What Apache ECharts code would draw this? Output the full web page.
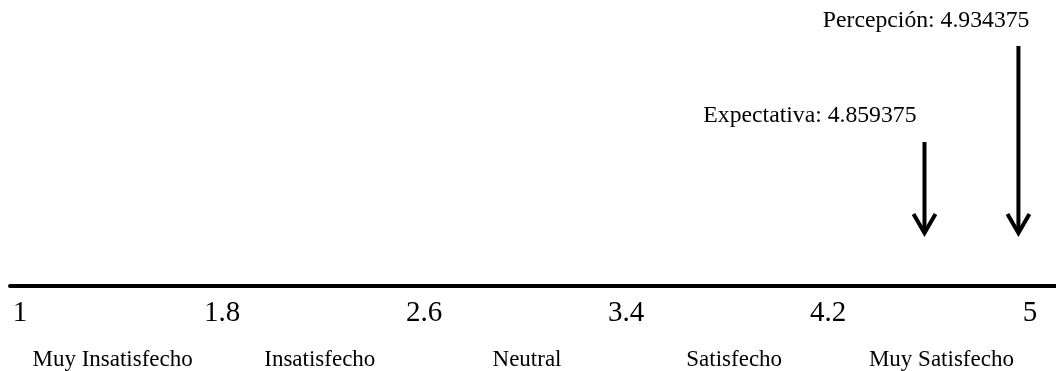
<!DOCTYPE html>
<html>
<head>
<meta charset="utf-8">
<title>Expectativa y Percepción</title>
<script src="https://cdn.jsdelivr.net/npm/echarts@6/dist/echarts.min.js"></script>
<style>
  html, body { margin: 0; padding: 0; background: #ffffff; }
  #chart { width: 1056px; height: 371px; }
</style>
</head>
<body>
<div id="chart"></div>
<script>
// Rating scale: numeric tick labels and the verbal levels under them
const ratingTicks = [1, 1.8, 2.6, 3.4, 4.2, 5];
const ratingCategories = ['Muy Insatisfecho', 'Insatisfecho', 'Neutral', 'Satisfecho', 'Muy Satisfecho'];

// Mean scores marked with arrows
const measureNames = ['Expectativa', 'Percepción'];
const measureValues = [4.859375, 4.934375];

const FONT = '"Liberation Serif", "Times New Roman", serif';

// Arrow drawing styles (start of the shaft and text placement relative to the arrow)
const arrowLayout = [
  { shaftTop: 142, labelDx: -8, labelY: 116 },
  { shaftTop: 46, labelDx: 11, labelY: 21 }
];

const AXIS_Y_BOTTOM = 85;   // distance of the scale line from the bottom edge

const chart = echarts.init(document.getElementById('chart'), null, { renderer: 'canvas' });

const option = {
  backgroundColor: '#ffffff',
  animation: false,
  grid: [
    // 0: heavy scale line
    { left: 10, right: 0, top: 0, bottom: AXIS_Y_BOTTOM, outerBoundsMode: 'none', containLabel: false },
    // 1: numeric scale
    { left: 20, right: 26, top: 0, bottom: AXIS_Y_BOTTOM, outerBoundsMode: 'none', containLabel: false },
    // 2: verbal categories
    { left: 9, right: 11, top: 0, bottom: AXIS_Y_BOTTOM, outerBoundsMode: 'none', containLabel: false },
    // 3: arrow positions
    { left: 36, right: 18, top: 0, bottom: 138, outerBoundsMode: 'none', containLabel: false }
  ],
  xAxis: [
    {
      gridIndex: 0, type: 'value', min: 0, max: 1,
      axisLine: { show: true, lineStyle: { color: '#000', width: 4 } },
      axisTick: { show: false }, axisLabel: { show: false }, splitLine: { show: false }
    },
    {
      gridIndex: 1, type: 'value',
      min: ratingTicks[0], max: ratingTicks[ratingTicks.length - 1],
      interval: 0.8,
      axisLine: { show: false }, axisTick: { show: false }, splitLine: { show: false },
      axisLabel: {
        show: true, color: '#000', fontFamily: FONT, fontSize: 29, lineHeight: 29,
        margin: 13,
        formatter: v => String(Math.round(v * 10) / 10)
      }
    },
    {
      gridIndex: 2, type: 'category', data: ratingCategories, boundaryGap: true,
      axisLine: { show: false }, axisTick: { show: false }, splitLine: { show: false },
      axisLabel: {
        show: true, interval: 0, color: '#000', fontFamily: FONT, fontSize: 23, lineHeight: 23,
        margin: 62
      }
    },
    {
      gridIndex: 3, type: 'value', min: 4.15, max: 4.95, show: false
    }
  ],
  yAxis: [
    { gridIndex: 0, type: 'value', show: false },
    { gridIndex: 1, type: 'value', show: false },
    { gridIndex: 2, type: 'value', show: false },
    { gridIndex: 3, type: 'value', min: 0, max: 1, show: false }
  ],
  series: [
    {
      type: 'custom',
      xAxisIndex: 3,
      yAxisIndex: 3,
      clip: false,
      data: measureValues.map((v, i) => ({ name: measureNames[i], value: [v, 0] })),
      renderItem: function (params, api) {
        const v = api.value(0);
        const tip = api.coord([v, 0]);
        const x = tip[0];
        const tipY = tip[1];
        const lay = arrowLayout[params.dataIndex];
        const headW = 11, headH = 19;
        return {
          type: 'group',
          children: [
            {
              type: 'line',
              shape: { x1: x, y1: lay.shaftTop, x2: x, y2: tipY - 2 },
              style: { stroke: '#000', lineWidth: 4 }
            },
            {
              type: 'polyline',
              shape: { points: [[x - headW, tipY - headH], [x, tipY], [x + headW, tipY - headH]] },
              style: { stroke: '#000', fill: null, lineWidth: 4, lineJoin: 'miter' }
            },
            {
              type: 'text',
              style: {
                text: measureNames[params.dataIndex] + ': ' + v,
                x: x + lay.labelDx,
                y: lay.labelY,
                align: 'right',
                verticalAlign: 'middle',
                fill: '#000',
                font: '23.7px ' + FONT
              }
            }
          ]
        };
      }
    }
  ]
};

chart.setOption(option);
</script>
</body>
</html>
